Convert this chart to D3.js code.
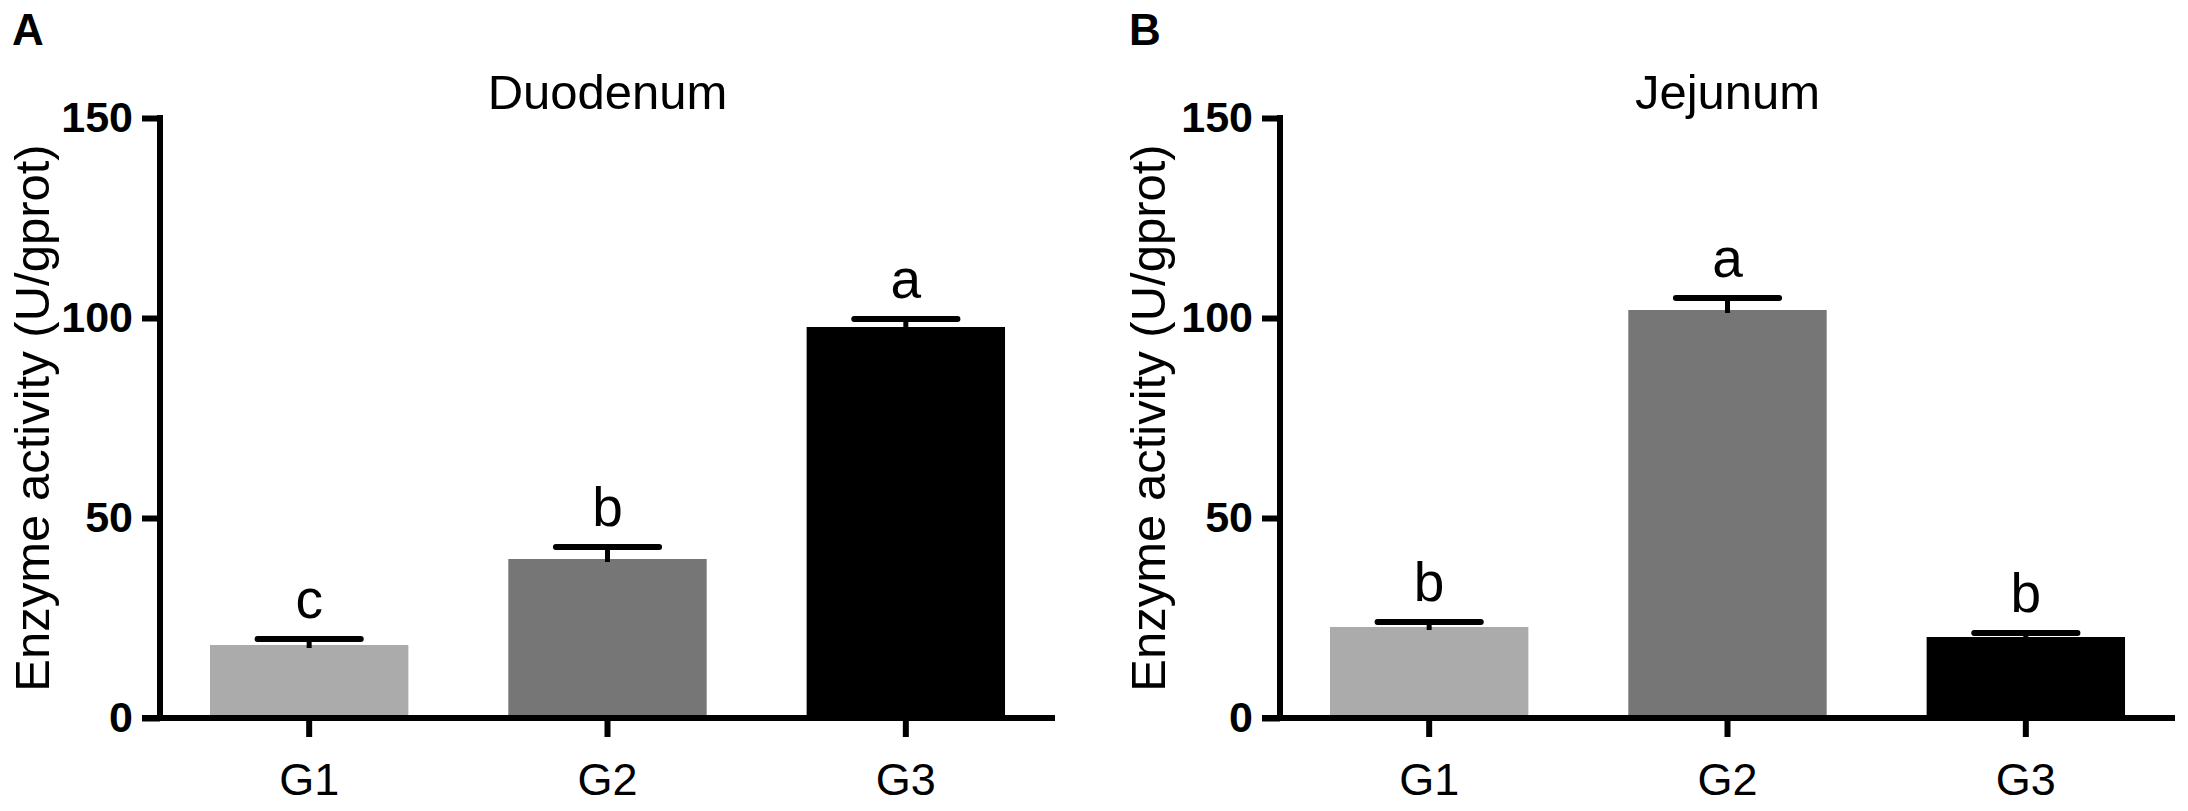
<!DOCTYPE html>
<html>
<head>
<meta charset="utf-8">
<style>
  body { margin: 0; background: #fff; }
  text { font-family: "Liberation Sans", Arial, sans-serif; fill: #000; }
</style>
</head>
<body>
<svg id="chart" width="2188" height="811"></svg>
<script src="https://cdn.jsdelivr.net/npm/d3@7"></script>
<script>
// values
const groups = ["G1", "G2", "G3"];
const barColors = ["#ababab", "#767676", "#000000"];
const yTicks = [0, 50, 100, 150];

const duoMean = [18.25, 39.75, 97.75];
const duoErr = [1.5, 3.0, 2.0];
const duoLetters = ["c", "b", "a"];

const jejMean = [22.75, 102, 20.25];
const jejErr = [1.25, 3.0, 1.0];
const jejLetters = ["b", "a", "b"];

const svg = d3.select("#chart");
const plotTop = 118, plotBottom = 718;

function panel(opts) {
  const g = svg.append("g");
  const x = d3.scaleBand()
    .domain(groups)
    .range([opts.left, opts.right])
    .paddingInner(0.335)
    .paddingOuter(0.1675);
  const y = d3.scaleLinear().domain([0, 150]).range([plotBottom, plotTop]);

  // bars
  g.selectAll("rect.bar")
    .data(groups)
    .join("rect")
    .attr("class", "bar")
    .attr("x", d => x(d))
    .attr("width", x.bandwidth())
    .attr("y", (d, i) => y(opts.mean[i]))
    .attr("height", (d, i) => y(0) - y(opts.mean[i]))
    .attr("fill", (d, i) => barColors[i]);

  // error bars (upper only)
  const cx = d => x(d) + x.bandwidth() / 2;
  const capW = x.bandwidth() * 0.26;
  g.selectAll("line.whisk")
    .data(groups)
    .join("line")
    .attr("class", "whisk")
    .attr("x1", cx).attr("x2", cx)
    .attr("y1", (d, i) => y(opts.mean[i]) + 3)
    .attr("y2", (d, i) => y(opts.mean[i] + opts.err[i]))
    .attr("stroke", "#000").attr("stroke-width", 5);
  g.selectAll("line.cap")
    .data(groups)
    .join("line")
    .attr("class", "cap")
    .attr("x1", d => cx(d) - capW).attr("x2", d => cx(d) + capW)
    .attr("y1", (d, i) => y(opts.mean[i] + opts.err[i]))
    .attr("y2", (d, i) => y(opts.mean[i] + opts.err[i]))
    .attr("stroke", "#000").attr("stroke-width", 6)
    .attr("stroke-linecap", "round");

  // significance letters
  g.selectAll("text.sig")
    .data(groups)
    .join("text")
    .attr("class", "sig")
    .attr("x", cx)
    .attr("y", (d, i) => y(opts.mean[i] + opts.err[i]) - 21)
    .attr("text-anchor", "middle")
    .attr("font-size", 55)
    .text((d, i) => opts.letters[i]);

  // y axis
  const yAxis = g.append("g")
    .attr("transform", `translate(${opts.left},0)`)
    .call(d3.axisLeft(y).tickValues(yTicks).tickSize(18).tickPadding(9));
  yAxis.select(".domain").remove();
  yAxis.append("line")
    .attr("x1", 0).attr("x2", 0)
    .attr("y1", plotTop - 3).attr("y2", plotBottom + 3)
    .attr("stroke", "#000").attr("stroke-width", 6);
  yAxis.selectAll(".tick line").attr("stroke-width", 6);
  yAxis.selectAll(".tick text")
    .attr("font-size", 43).attr("font-weight", "bold")
    .attr("font-family", "Liberation Sans, Arial, sans-serif")
    .attr("fill", "#000");

  // x axis
  const xAxis = g.append("g")
    .attr("transform", `translate(0,${plotBottom})`)
    .call(d3.axisBottom(x).tickSize(19).tickPadding(26));
  xAxis.select(".domain").remove();
  xAxis.append("line")
    .attr("x1", opts.left - 18).attr("x2", opts.right)
    .attr("y1", 0).attr("y2", 0)
    .attr("stroke", "#000").attr("stroke-width", 6);
  xAxis.selectAll(".tick line").attr("stroke-width", 6);
  xAxis.selectAll(".tick text")
    .attr("font-size", 45)
    .attr("font-family", "Liberation Sans, Arial, sans-serif")
    .attr("fill", "#000");

  // title
  g.append("text")
    .attr("x", (opts.left + opts.right) / 2)
    .attr("y", 109)
    .attr("text-anchor", "middle")
    .attr("font-size", 49)
    .text(opts.title);

  // y label
  g.append("text")
    .attr("transform", `translate(${opts.labelX},${(plotTop + plotBottom) / 2}) rotate(-90)`)
    .attr("text-anchor", "middle")
    .attr("font-size", 49)
    .text("Enzyme activity (U/gprot)");

  // panel letter
  g.append("text")
    .attr("x", opts.letterX)
    .attr("y", 45)
    .attr("font-size", 44)
    .attr("font-weight", "bold")
    .text(opts.panel);
}

panel({ left: 160, right: 1055, mean: duoMean, err: duoErr, letters: duoLetters,
        title: "Duodenum", labelX: 49, letterX: 12, panel: "A" });
panel({ left: 1280, right: 2175, mean: jejMean, err: jejErr, letters: jejLetters,
        title: "Jejunum", labelX: 1165, letterX: 1129, panel: "B" });
</script>
</body>
</html>
